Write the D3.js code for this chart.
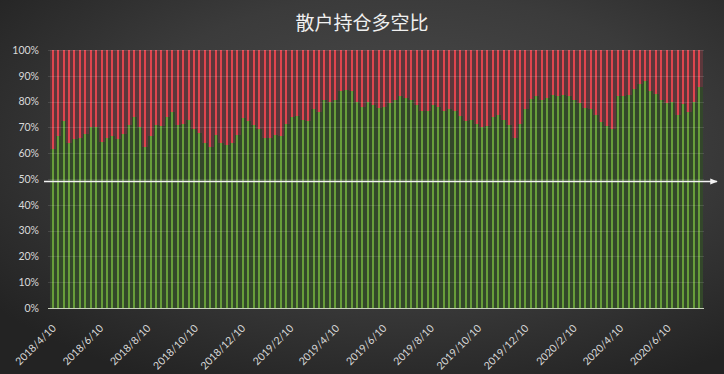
<!DOCTYPE html>
<html>
<head>
<meta charset="utf-8">
<script src="https://cdnjs.cloudflare.com/ajax/libs/d3/7.8.5/d3.min.js"></script>
<style>
	body { margin: 0; background: #2a2a2a; }
	svg { display: block; }
	.tick-text { font-family: Lato, "Liberation Sans", sans-serif; font-size: 10.5px; fill: #d9d9d9; }
</style>
</head>
<body>
<div class="chart"></div>
<script>
var outerW = 724,
	outerH = 374;

// Weekly data, first week and long share (%) per week; short = 100 - long
var startDate = "2018/4/10";
var longPct = [
	61.5, 66.5, 72.5, 64, 65.5, 66, 67.5, 70, 70, 64.5,
	66, 66.5, 65.5, 67.5, 71, 74, 70, 62.5, 66.5, 71,
	70.5, 74, 76, 71, 71.5, 73, 69.5, 68, 64, 62.5,
	67, 64, 63, 64, 67, 73.5, 72.5, 71, 69.5, 66,
	66, 67, 66.5, 71.5, 74, 74.5, 73, 72.5, 77, 76,
	80.5, 80, 80.5, 84, 84.5, 84, 80, 78, 80, 78.5,
	77.5, 78, 79.5, 80.5, 82, 81.5, 80.5, 78.5, 76.5, 76.5,
	78.5, 78, 76.5, 77, 76.5, 74.5, 72.5, 73, 71.5, 70,
	70.5, 74, 75, 73, 71, 66, 71.5, 77, 81, 82,
	80.5, 81.5, 82.5, 82, 82.5, 82, 80.5, 79.5, 77.5, 77,
	75, 72, 70.5, 69.5, 82, 82, 82.5, 85, 87, 88,
	84, 83, 80.5, 79.5, 80, 75, 79, 76, 80, 85.5
];
var tickLabels = [
	"2018/4/10", "2018/6/10", "2018/8/10", "2018/10/10", "2018/12/10",
	"2019/2/10", "2019/4/10", "2019/6/10", "2019/8/10", "2019/10/10",
	"2019/12/10", "2020/2/10", "2020/4/10", "2020/6/10"
];
var yTicks = [0, 10, 20, 30, 40, 50, 60, 70, 80, 90, 100];
var refLine = 49;

var title = "散户持仓多空比";

var parseDate = d3.timeParse("%Y/%m/%d");
var first = parseDate(startDate);
var rows = longPct.map(function(d, i) {
	return {date: d3.timeDay.offset(first, 7 * i), long: d, short: 100 - d};
});

var svg = d3.select(".chart")
	.append("svg")
	.attr("width", outerW)
	.attr("height", outerH);

// Background glow
var defs = svg.append("defs");
var grad = defs.append("radialGradient")
	.attr("id", "bg")
	.attr("cx", "56%")
	.attr("cy", "38%")
	.attr("r", "72%");
grad.append("stop").attr("offset", "0%").attr("stop-color", "#4c4c4c");
grad.append("stop").attr("offset", "55%").attr("stop-color", "#3b3b3b");
grad.append("stop").attr("offset", "100%").attr("stop-color", "#232323");

defs.append("marker")
	.attr("id", "arrow")
	.attr("viewBox", "0 0 10 10")
	.attr("refX", 9)
	.attr("refY", 5)
	.attr("markerWidth", 5)
	.attr("markerHeight", 5)
	.attr("orient", "auto")
	.append("path")
	.attr("d", "M0,1 L10,5 L0,9 z")
	.attr("fill", "#f2f2f2");

svg.append("rect")
	.attr("width", outerW)
	.attr("height", outerH)
	.attr("fill", "url(#bg)");

// Scales
var lastDate = rows[rows.length - 1].date;
var x = d3.scaleTime()
	.domain([d3.timeHour.offset(first, -84), d3.timeHour.offset(lastDate, 84)])
	.range([50, 702]);
var y = d3.scaleLinear()
	.domain([0, 100])
	.range([308, 50]);

var bandW = x(rows[1].date) - x(rows[0].date);
var stripeW = 2;

var stack = d3.stack().keys(["long", "short"]);
var series = stack(rows);

var darkCol = {long: "#33472a", short: "#5c373b"};
var brightCol = {long: "#679d3a", short: "#df454e"};

var layers = svg.append("g")
	.attr("shape-rendering", "crispEdges")
	.selectAll("g")
	.data(series)
	.join("g");

// wide dark part of each column
layers.selectAll("rect.body")
	.data(function(s) { return s.map(function(p) { p.key = s.key; return p; }); })
	.join("rect")
	.attr("class", "body")
	.attr("x", function(p) { return x(p.data.date) - bandW / 2; })
	.attr("y", function(p) { return y(p[1]); })
	.attr("width", bandW + 0.5)
	.attr("height", function(p) { return y(p[0]) - y(p[1]); })
	.attr("fill", function(p) { return darkCol[p.key]; });

// bright stripe in the middle, snapped to whole pixels
layers.selectAll("rect.stripe")
	.data(function(s) { return s; })
	.join("rect")
	.attr("class", "stripe")
	.attr("x", function(p) { return Math.round(x(p.data.date) - stripeW / 2); })
	.attr("y", function(p) { return Math.round(y(p[1])); })
	.attr("width", stripeW)
	.attr("height", function(p) { return Math.round(y(p[0])) - Math.round(y(p[1])); })
	.attr("fill", function(p) { return brightCol[p.key]; });

// Gridlines, drawn faintly over the columns
svg.append("g")
	.selectAll("line")
	.data(yTicks.filter(function(d) { return d > 0; }))
	.join("line")
	.attr("x1", 48)
	.attr("x2", 704)
	.attr("y1", function(d) { return Math.round(y(d)) + 0.5; })
	.attr("y2", function(d) { return Math.round(y(d)) + 0.5; })
	.attr("stroke", "#ffffff")
	.attr("stroke-opacity", 0.12)
	.attr("stroke-width", 1);

svg.append("line")
	.attr("x1", 48)
	.attr("x2", 704)
	.attr("y1", y(0) + 0.5)
	.attr("y2", y(0) + 0.5)
	.attr("stroke", "#c8d0bc")
	.attr("stroke-width", 1);

// Y axis
var yAxis = svg.append("g")
	.attr("transform", "translate(50,0)")
	.call(d3.axisLeft(y)
		.tickValues(yTicks)
		.tickSize(0)
		.tickPadding(11)
		.tickFormat(function(d) { return d + "%"; }));
yAxis.select(".domain").remove();
yAxis.selectAll("text")
	.attr("class", "tick-text")
	.attr("fill", null)
	.attr("font-family", null)
	.attr("font-size", null);

// X labels, rotated
svg.append("g")
	.selectAll("text")
	.data(tickLabels)
	.join("text")
	.attr("class", "tick-text")
	.attr("font-size", "11px")
	.attr("text-anchor", "end")
	.attr("transform", function(d) {
		return "translate(" + (x(parseDate(d)) + 4) + "," + 329 + ") rotate(-45)";
	})
	.text(function(d) { return d; });

// 50% reference line
svg.append("line")
	.attr("x1", 44)
	.attr("x2", 717)
	.attr("y1", y(refLine))
	.attr("y2", y(refLine))
	.attr("stroke", "#f2f2f2")
	.attr("stroke-width", 1.5)
	.attr("marker-end", "url(#arrow)");

// Title
svg.append("text")
	.attr("x", 362)
	.attr("y", 30)
	.attr("text-anchor", "middle")
	.attr("font-family", "'Noto Sans CJK SC', sans-serif")
	.attr("font-size", "19px")
	.attr("fill", "#f0f0f0")
	.text(title);
</script>
</body>
</html>
